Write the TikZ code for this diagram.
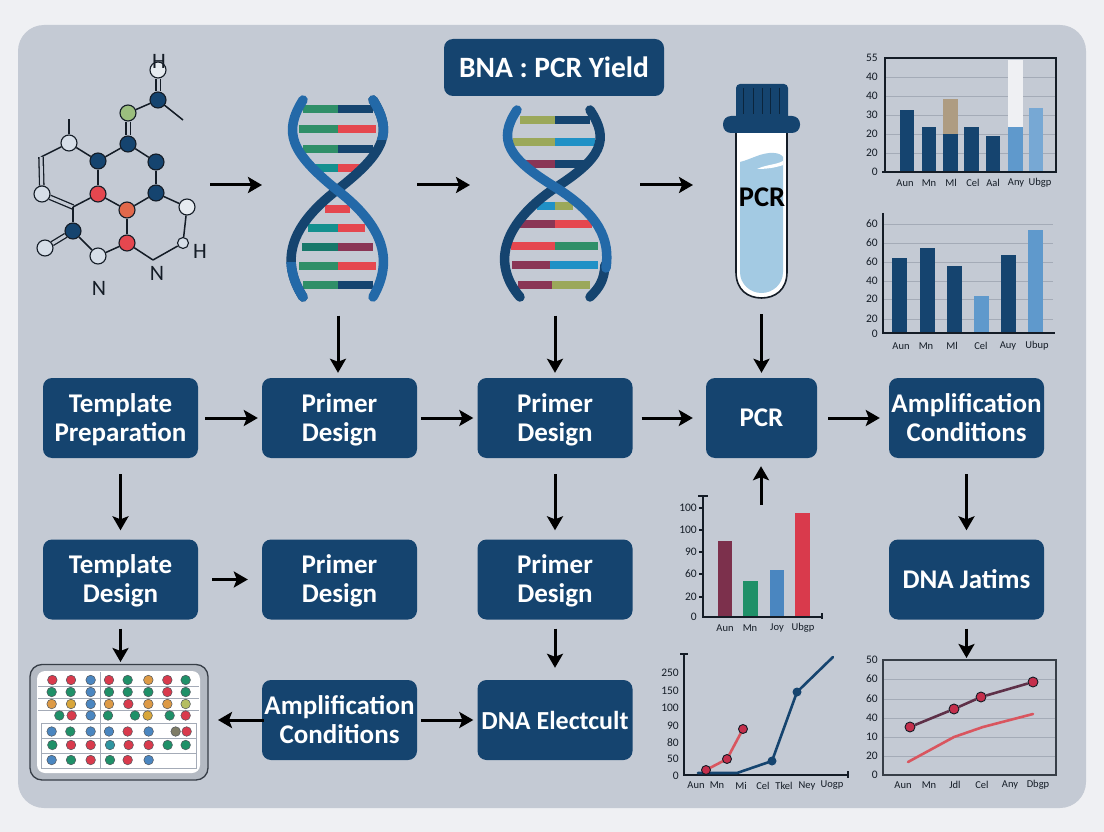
\documentclass[tikz,border=0pt]{standalone}
\usepackage{fontspec}
\setmainfont{Carlito}
\usetikzlibrary{arrows.meta,backgrounds}
\definecolor{outerc}{HTML}{EFF0F3}
\definecolor{panelc}{HTML}{C4CAD4}
\definecolor{navy}{HTML}{15446F}
\definecolor{front}{HTML}{2369A8}
\definecolor{inkc}{HTML}{141C26}
\definecolor{gridc}{HTML}{A4ABB7}
\definecolor{lblue}{HTML}{5F99CC}
\definecolor{rgreen}{HTML}{2F8F68}
\definecolor{rred}{HTML}{E5474F}
\definecolor{rteal}{HTML}{14908F}
\definecolor{rmaroon}{HTML}{8A3555}
\definecolor{rdkgreen}{HTML}{17786A}
\definecolor{rolive}{HTML}{9BA85A}
\definecolor{rblue}{HTML}{2091C6}
\definecolor{dred}{HTML}{D93A4C}
\definecolor{dgreen}{HTML}{1F9068}
\definecolor{dblue}{HTML}{4A86C0}
\definecolor{dorange}{HTML}{DD9A45}
\definecolor{dyellow}{HTML}{D8A63A}
\definecolor{dgray}{HTML}{7E7C66}
\definecolor{dolive}{HTML}{B5BE60}
\definecolor{dteal}{HTML}{2F95A0}
\definecolor{liquid}{HTML}{A3CAE3}
\definecolor{lineRed}{HTML}{D9565F}
\definecolor{lineDark}{HTML}{5E3048}
\definecolor{dotRed}{HTML}{C42F4C}
\definecolor{tanc}{HTML}{AE9C82}
\definecolor{greenatom}{HTML}{9BBE7E}
\definecolor{paleatom}{HTML}{D6DEE8}
\definecolor{brightatom}{HTML}{E6EBF0}
\tikzset{
  stepbox/.style={fill=navy,rounded corners=9pt,minimum width=155pt,minimum height=80pt,inner sep=0pt,text=white,align=center,font=\fontsize{27}{29}\selectfont\bfseries},
  holder/.style={inner sep=0pt,outer sep=0pt},
  arr/.style={-{Stealth[length=14pt,width=16pt,inset=3pt]},line width=3pt,black},
  strand/.style={line width=9.5pt,line cap=round},
  rungln/.style={line width=8pt},
  bond/.style={line width=1.5pt,inkc},
  dbond/.style={line width=1.3pt,inkc,double=panelc,double distance=3pt},
  atom/.style={circle,draw=inkc,line width=1.1pt,minimum size=16pt,inner sep=0pt},
  chem/.style={inner sep=0pt,text=inkc,font=\fontsize{22}{22}\selectfont},
  ticktxt/.style={inner sep=0pt,text=inkc,font=\fontsize{10.5}{11}\selectfont},
  tickytxt/.style={inner sep=0pt,text=inkc,font=\fontsize{11.5}{12}\selectfont},
  axisln/.style={line width=1.3pt,inkc},
  gridln/.style={line width=0.9pt,gridc},
  plotln/.style={line width=2.6pt,line join=round,line cap=round},
  dotmark/.style={circle,draw=inkc,line width=0.9pt,fill=dotRed,minimum size=10pt,inner sep=0pt},
  welldot/.style={draw=inkc!75,line width=0.5pt},
}
\newcommand{\rungat}[6]{%
  \draw[rungln,#5] (#1,#4) -- (#2,#4);
  \draw[rungln,#6] (#2,#4) -- (#3,#4);}
\newcommand{\twolines}[2]{\rule{0pt}{26.3pt}#1\\#2\rule[-8.7pt]{0pt}{8.7pt}}
\begin{document}
\begin{tikzpicture}[x=1pt,y=-1pt]
\useasboundingbox (0,0) rectangle (1104,832);
\begin{scope}[on background layer]
  \fill[outerc] (0,0) rectangle (1104,832);
  \fill[panelc,rounded corners=26pt] (18,25) rectangle (1086,808);
\end{scope}

%% title
\node[fill=navy,rounded corners=9pt,minimum width=220pt,minimum height=57pt,inner sep=0pt,text=white,font=\fontsize{29.5}{30}\selectfont\bfseries] (title) at (554,67.5) {BNA : PCR Yield};

%% molecule
\node[atom,fill=brightatom] (a1) at (158,70) {};
\node[atom,fill=navy] (a2) at (158,100) {};
\node[atom,fill=greenatom] (a3) at (128,113) {};
\node[atom,fill=navy] (a4) at (128,144) {};
\node[atom,fill=navy] (a5) at (156,162) {};
\node[atom,fill=navy] (a6) at (98,161) {};
\node[atom,fill=paleatom] (a7) at (69,143) {};
\node[atom,fill=navy] (a8) at (156,193) {};
\node[atom,fill=rred] (a9) at (98,194) {};
\node[atom,fill=rred!60!dorange] (a10) at (127,210) {};
\node[atom,fill=brightatom] (a11) at (187,207) {};
\node[atom,fill=paleatom,minimum size=11pt] (a12) at (183,243) {};
\node[atom,fill=rred] (a13) at (127,243) {};
\node[atom,fill=paleatom] (a14) at (98,256) {};
\node[atom,fill=navy] (a15) at (73,231) {};
\node[atom,fill=paleatom] (a16) at (45,248) {};
\node[atom,fill=paleatom] (a17) at (42,194) {};
\coordinate (c1) at (73,207);
\coordinate (c2) at (41,157);
\coordinate (c3) at (153,260);
\coordinate (c4) at (183,120);
\coordinate (c5) at (69,119);
\node[chem] (htop) at (159,61) {H};
\node[chem] (hr) at (200,251) {H};
\node[chem] (n1) at (157,273) {N};
\node[chem] (n2) at (99,288) {N};
\begin{scope}[on background layer]
  \draw[dbond] (a1) -- (a2);
  \draw[bond] (a2) -- (a3);
  \draw[bond] (a2.center) -- (c4);
  \draw[dbond] (a3) -- (a4);
  \draw[bond] (a4) -- (a5);
  \draw[bond] (a4) -- (a6);
  \draw[bond] (a5) -- (a8);
  \draw[bond] (a6) -- (a7);
  \draw[bond] (a7) -- (c5);
  \draw[bond] (a7) -- (c2);
  \draw[dbond] (c2) -- (a17);
  \draw[dbond] (a17) -- (c1);
  \draw[bond] (a6) -- (a9);
  \draw[bond] (a9) -- (a10);
  \draw[bond] (a9) -- (c1);
  \draw[bond] (c1) -- (a15);
  \draw[dbond] (a15) -- (a16);
  \draw[bond] (a15) -- (a14);
  \draw[bond] (a14) -- (a13);
  \draw[bond] (a13) -- (a10);
  \draw[bond] (a10) -- (a8);
  \draw[bond] (a8) -- (a11);
  \draw[bond] (a11) -- (a12);
  \draw[bond] (a12) -- (c3);
  \draw[bond] (c3) -- (a13);
\end{scope}

%% helix A
\node[holder,minimum width=98pt,minimum height=202pt] (helixA) at (338,198.5) {};
\rungat{303}{338}{373}{109}{rgreen}{navy}
\rungat{299}{338}{376}{129}{rgreen}{rred}
\rungat{303}{338}{373}{149}{rgreen}{navy}
\rungat{313}{338}{363}{168}{rteal}{rred}
\rungat{325}{338}{350}{209}{rred}{rred}
\rungat{308}{338}{365}{228}{rteal}{rred}
\rungat{302}{338}{373}{247}{rdkgreen}{rmaroon}
\rungat{299}{338}{376}{266}{rgreen}{rred}
\rungat{303}{338}{373}{285}{rgreen}{navy}
\draw[strand,navy] (373,100) .. controls (393,132) and (386,152) .. (337,190) .. controls (288,228) and (281,262) .. (303,297);
\begin{scope}
  \clip (280,90) rectangle (400,140) (280,262) rectangle (400,310);
  \draw[strand,front] (373,100) .. controls (393,132) and (386,152) .. (337,190) .. controls (288,228) and (281,262) .. (303,297);
\end{scope}
\draw[strand,front] (303,100) .. controls (283,132) and (290,152) .. (337,190) .. controls (386,228) and (393,262) .. (373,297);

%% helix B
\node[holder,minimum width=106pt,minimum height=202pt] (helixB) at (555,198.5) {};
\rungat{520}{555}{590}{120}{rolive}{navy}
\rungat{513}{555}{595}{142}{rolive}{rblue}
\rungat{522}{555}{587}{164}{rmaroon}{navy}
\rungat{537}{555}{573}{206}{rblue}{rolive}
\rungat{517}{555}{592}{224}{rmaroon}{rred}
\rungat{511}{555}{598}{246}{rred}{rgreen}
\rungat{512}{550}{598}{265}{rmaroon}{rblue}
\rungat{518}{552}{590}{285}{rmaroon}{rolive}
\draw[strand,navy] (590,110) .. controls (610,140) and (602,158) .. (555,188) .. controls (505,222) and (490,262) .. (520,297);
\draw[strand,navy] (605,265) .. controls (604,280) and (600,287) .. (590,297);
\draw[strand,front] (517,110) .. controls (497,140) and (508,158) .. (555,187) .. controls (600,215) and (610,240) .. (606,268);

%% tube
\node[holder,minimum width=78pt,minimum height=214pt] (tube) at (761.5,191) {};
\draw[line width=1.6pt,inkc,fill=white] (736,130) -- (736,272) .. controls (736,290) and (748,298) .. (761.5,298) .. controls (775,298) and (787,290) .. (787,272) -- (787,130);
\fill[liquid] (740,162) .. controls (752,159) and (762,152) .. (774,153) .. controls (778,153) and (782,155) .. (783,157) -- (783,272) .. controls (783,284) and (773,293) .. (761.5,293) .. controls (750,293) and (740,284) .. (740,272) -- cycle;
\fill[white] (757,169) .. controls (768,164) and (776,165) .. (783,161) -- (783,165) .. controls (775,168) and (765,169) .. (757,169) -- cycle;
\fill[navy,rounded corners=4pt] (736,84) rectangle (788,122);
\fill[navy,rounded corners=8pt] (723,116) rectangle (800,133);
\foreach \x in {743,753,762,770,779} \draw[line width=0.8pt,black!45!navy] (\x,88) -- (\x,114);
\node[inner sep=0pt,text=black,font=\fontsize{28.5}{28}\selectfont\bfseries] (tubelabel) at (762,197) {PCR};

%% boxes
\node[stepbox] (tp) at (120.5,418) {\twolines{Template}{Preparation}};
\node[stepbox] (pd1) at (339.5,418) {\twolines{Primer}{Design}};
\node[stepbox] (pd2) at (555,418) {\twolines{Primer}{Design}};
\node[stepbox,minimum width=111pt] (pcr) at (761.5,418) {PCR};
\node[stepbox] (ac1) at (966.5,418) {\twolines{Amplification}{Conditions}};
\node[stepbox] (td) at (120.5,579.5) {\twolines{Template}{Design}};
\node[stepbox] (pd3) at (339.5,579.5) {\twolines{Primer}{Design}};
\node[stepbox] (pd4) at (555,579.5) {\twolines{Primer}{Design}};
\node[stepbox] (jat) at (966.5,579.5) {DNA Jatims};
\node[stepbox] (ac2) at (339.5,720) {\twolines{Amplification}{Conditions}};
\node[stepbox,font=\fontsize{26}{29}\selectfont\bfseries] (ele) at (555,720) {DNA Electcult};

%% plate
\node[holder,minimum width=178pt,minimum height=116pt] (plate) at (119,722) {};
\draw[line width=1.3pt,inkc!85,fill=panelc!92!black,rounded corners=12pt] (30,664.5) rectangle (208,780);
\fill[white,rounded corners=8pt] (37,671) rectangle (200,773);
\begin{scope}[line width=0.6pt,gridc]
  \foreach \y in {686,698,710} \draw (38,\y) -- (199,\y);
  \draw (41.5,723) rectangle (196.5,768);
  \foreach \y in {738,753} \draw (41.5,\y) -- (196.5,\y);
  \draw (100,672) -- (100,768);
\end{scope}
\foreach \z/\c in {
  97/dred,153/dred,212/dblue,267/dred,323/dgreen,385/dorange,442/dred,497/dgreen}
  \filldraw[welldot,fill=\c] (20+\z/3,680) circle (4.8pt);
\foreach \z/\c in {
  95/dgreen,152/dgreen,212/dblue,267/dgreen,323/dgreen,385/dgreen,442/dred,497/dgreen}
  \filldraw[welldot,fill=\c] (20+\z/3,692) circle (4.8pt);
\foreach \z/\c in {
  95/dorange,153/dyellow,212/dblue,267/dorange,325/dred,385/dorange,442/dorange,497/dolive}
  \filldraw[welldot,fill=\c] (20+\z/3,704) circle (4.8pt);
\foreach \z/\c in {
  118/dgreen,155/dred,212/dblue,264/dgreen,345/dgreen,383/dyellow,449/dgreen,497/dred}
  \filldraw[welldot,fill=\c] (20+\z/3,715.5) circle (4.8pt);
\foreach \z/\c in {
  95/dblue,151/dgreen,212/dblue,267/dblue,323/dred,386/dblue,467/dgray,500/dred}
  \filldraw[welldot,fill=\c] (20+\z/3,731.5) circle (4.8pt);
\foreach \z/\c in {
  97/dgreen,153/dred,212/dred,270/dteal,326/dred,386/dred,443/dgreen,497/dgreen}
  \filldraw[welldot,fill=\c] (20+\z/3,745) circle (4.8pt);
\foreach \z/\c in {
  95/dblue,153/dgreen,212/dred,270/dgreen,323/dred,386/dblue}
  \filldraw[welldot,fill=\c] (20+\z/3,760) circle (4.8pt);

%% chart 1
\foreach \y in {77,96,115,134,153} \draw[gridln] (885,\y) -- (1056,\y);
\fill[navy] (900,110) rectangle (914,172);
\fill[navy] (922,127) rectangle (936,172);
\fill[navy] (943,134) rectangle (958,172);
\fill[tanc] (943,99) rectangle (958,134);
\fill[navy] (964,127) rectangle (979,172);
\fill[navy] (986,136) rectangle (1000,172);
\fill[lblue] (1008,127) rectangle (1023,172);
\fill[outerc] (1008,60) rectangle (1023,127);
\fill[lblue!85!white] (1029,108) rectangle (1043,172);
\draw[axisln] (882,172) -- (1056,172) -- (1056,58) -- (885,58) -- (885,172);
\foreach \y/\t [count=\i] in {58/55,77/40,96/40,115/30,134/20,153/20,172/0}
  \node[tickytxt,anchor=east] (caY\i) at (878,\y) {\t};
\foreach \x/\t [count=\i] in {905/Aun,929/Mn,951/Ml,973/Cel,993/Aal,1016/Any,1040/Ubgp}
  \node[ticktxt] (caX\i) at (\x,183) {\t};

%% chart 2
\foreach \y in {224,243,262,281,299,319} \draw[gridln] (883,\y) -- (1053,\y);
\fill[navy] (892,258) rectangle (907,333);
\fill[navy] (920,248) rectangle (935,333);
\fill[navy] (947,266) rectangle (962,333);
\fill[lblue] (974,296) rectangle (989,333);
\fill[navy] (1001,255) rectangle (1016,333);
\fill[lblue] (1028,230) rectangle (1043,333);
\draw[axisln] (883,213) -- (883,333) -- (1055,333);
\foreach \y/\t [count=\i] in {224/60,243/60,262/60,281/40,299/20,319/20,334/0}
  \node[tickytxt,anchor=east] (cbY\i) at (878,\y) {\t};
\foreach \x/\t [count=\i] in {901/Aun,926/Mn,952/Ml,981/Cel,1008/Auy,1037/Ubup}
  \node[ticktxt] (cbX\i) at (\x,346) {\t};

%% chart 3
\fill[rmaroon!90!black] (718,541) rectangle (732,617);
\fill[dgreen] (743,581) rectangle (758,617);
\fill[dblue] (770,570) rectangle (784,617);
\fill[dred] (795,513) rectangle (810,617);
\draw[axisln] (698,496) -- (708,496) (703,496) -- (703,617) -- (822,617) (822,613) -- (822,619);
\foreach \y in {508,530,552,574,597} \draw[axisln] (699,\y) -- (703,\y);
\foreach \y/\t [count=\i] in {508/100,530/100,552/90,574/60,597/20,617/0}
  \node[tickytxt,anchor=east] (ccY\i) at (697,\y) {\t};
\foreach \x/\t [count=\i] in {725/Aun,750/Mn,777/Joy,803/Ubgp}
  \node[ticktxt] (ccX\i) at (\x,628) {\t};
\coordinate (chartCtop) at (761,505);

%% chart 4
\draw[axisln] (680,654) -- (688,654) (684,654) -- (684,775) -- (848,775) (848,771) -- (848,778);
\foreach \y/\t [count=\i] in {673/250,691/150,708/100,726/90,743/80,759/50,776/0}
  \node[tickytxt,anchor=east] (cdY\i) at (679,\y) {\t};
\foreach \x/\t [count=\i] in {696/Aun,717/Mn,741/Mi,763/Cel,784/Tkel,807/Ney,832/Uogp}
  \node[ticktxt] (cdX\i) at (\x,785.5) {\t};
\coordinate (b1) at (698,773);
\coordinate (b5) at (833,657);
\coordinate (b2) at (737,773);
\coordinate (b3) at (772,761);
\coordinate (b4) at (797,692);
\draw[plotln,navy] (b1) -- (b2) -- (b3) -- (b4) -- (b5);
\fill[navy] (b3) circle (4.5pt) (b4) circle (4.5pt);
\coordinate (r1) at (706,770);
\coordinate (r2) at (727,759);
\coordinate (r3) at (743,729);
\draw[plotln,lineRed] (r1) -- (r2) -- (r3);
\node[dotmark,minimum size=9pt] (rm1) at (r1) {};
\node[dotmark,minimum size=9pt] (rm2) at (r2) {};
\node[dotmark,minimum size=9pt] (rm3) at (r3) {};

%% chart 5
\foreach \y in {679,699,718,737,756} \draw[gridln] (883,\y) -- (1056,\y);
\draw[line width=1.5pt,inkc!85] (883,660) rectangle (1056,775);
\foreach \y/\t [count=\i] in {660/50,679/60,699/60,718/40,737/10,756/20,775/0}
  \node[tickytxt,anchor=east] (ceY\i) at (878,\y) {\t};
\foreach \x/\t [count=\i] in {903/Aun,929/Mn,955/Jdl,982/Cel,1010/Any,1038/Dbgp}
  \node[ticktxt] (ceX\i) at (\x,785) {\t};
\coordinate (s1) at (908,762);
\coordinate (s2) at (954,737);
\coordinate (s3) at (983,727);
\coordinate (s4) at (1033,714);
\draw[plotln,lineRed] (s1) -- (s2) -- (s3) -- (s4);
\node[dotmark] (m1) at (910,727) {};
\node[dotmark] (m2) at (954,709) {};
\node[dotmark] (m3) at (981,697) {};
\node[dotmark] (m4) at (1033,682) {};
\draw[plotln,lineDark,line cap=butt] (m1) -- (m2);
\draw[plotln,lineDark,line cap=butt] (m2) -- (m3);
\draw[plotln,lineDark,line cap=butt] (m3) -- (m4);
\coordinate (chartEtop) at (966.5,658);
\coordinate (plateTop) at (120.5,662);

%% free ends of the top row
\coordinate (molR) at (210,185);
\coordinate (hAl) at (262,185);
\coordinate (hAr) at (417,185);
\coordinate (hBl) at (470,185);
\coordinate (hBr) at (640,185);
\coordinate (tubeL) at (693,185);

%% connectors
\draw[arr] (molR) -- (hAl);
\draw[arr] (hAr) -- (hBl);
\draw[arr] (hBr) -- (tubeL);
\draw[arr,shorten <=16pt,shorten >=5pt] (helixA.south) -- (helixA.south |- pd1.north);
\draw[arr,shorten <=16pt,shorten >=5pt] (helixB.south) -- (pd2.north);
\draw[arr,shorten <=16pt,shorten >=5pt] (tube.south) -- (pcr.north);
\draw[arr,shorten <=7pt,shorten >=4pt] (tp) -- (pd1);
\draw[arr,shorten <=4pt,shorten >=4pt] (pd1) -- (pd2);
\draw[arr,shorten <=9pt,shorten >=13pt] (pd2) -- (pcr);
\draw[arr,shorten <=11pt,shorten >=9pt] (pcr) -- (ac1);
\draw[arr,shorten <=16pt,shorten >=9pt] (tp) -- (td);
\draw[arr,shorten <=16pt,shorten >=9pt] (pd2) -- (pd4);
\draw[arr,shorten <=16pt,shorten >=9pt] (ac1) -- (jat);
\draw[arr,shorten >=8pt] (chartCtop) -- (pcr.south -| chartCtop);
\draw[arr,shorten <=14pt,shorten >=14pt] (td) -- (pd3);
\draw[arr,shorten <=9pt] (td.south) -- (plateTop);
\draw[arr,shorten <=9pt,shorten >=12pt] (pd4) -- (ele);
\draw[arr,shorten <=9pt] (jat.south) -- (chartEtop);
\draw[arr,shorten <=-2pt,shorten >=10pt] (ac2.west) -- (plate.east |- ac2.west);
\draw[arr,shorten <=4pt,shorten >=4pt] (ac2) -- (ele);
\end{tikzpicture}
\end{document}
